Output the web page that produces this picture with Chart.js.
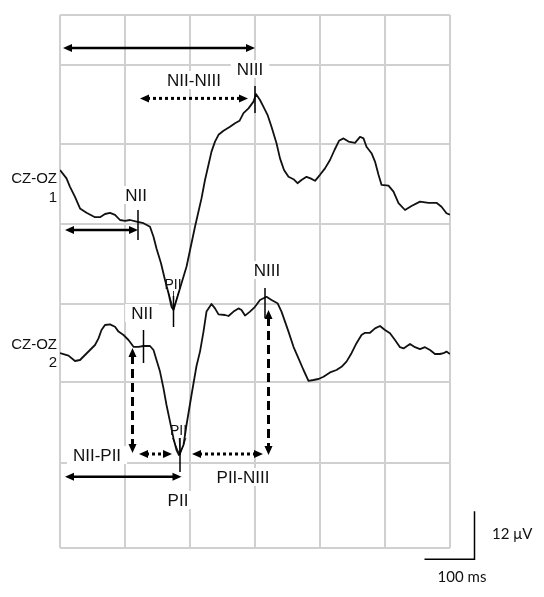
<!DOCTYPE html>
<html>
<head>
<meta charset="utf-8">
<script src="https://cdn.jsdelivr.net/npm/chart.js@4.4.1/dist/chart.umd.min.js"></script>
<style>
  html, body { margin: 0; padding: 0; background: #fff; }
</style>
</head>
<body>
<canvas id="chart" width="544" height="597"></canvas>
<script>
// grid positions (ms / µV)
const xGridMs = [0, 130, 260, 390, 520, 650, 780];
const yGridUv = [0, 21.25, 41.4, 60.9, 81, 101, 120.75, 133.25];

// traces, [ms, µV]
const traceCzOz1 = [
    [0,94.5],[13,92.4],[20,90.3],[30,87.8],[40,84.9],[53,83.8],[70,82.7],[80,82.7],[90,83.5],[100,83.8],
    [110,83.3],[120,82],[130,81.8],[140,82],[153,81.6],[167,81.2],[180,80.3],[187,77.8],[193,74.9],[202,71.2],
    [210,67],[217,63.7],[223,60.3],[227,59.5],[233,62],[243,66.2],[253,70.3],[263,76.2],[270,80.3],[283,87.4],
    [290,92],[297,95.8],[303,99.1],[310,101.6],[317,103.3],[327,104.3],[340,105.3],[350,106.2],[359,106.8],[367,108.7],
    [377,109.9],[387,111.6],[392,113.5],[400,112],[407,110.3],[415,108.3],[423,105.3],[433,101.2],[440,97.4],[448,94.5],
    [457,92.8],[467,92.2],[475,91.2],[483,92],[493,92.8],[501,92.4],[510,91.8],[520,93.3],[530,94.9],[540,97],
    [549,99.5],[558,101.8],[567,102.4],[577,101.6],[590,101.3],[600,102.8],[607,102.4],[613,100.3],[623,98.7],[630,96.6],
    [637,93.3],[643,90.8],[657,90.6],[667,89.1],[677,86.2],[690,84.5],[703,85.5],[720,86.6],[737,86.3],[753,86.3],
    [763,85.3],[773,83.7],[780,83.3],
];
const traceCzOz2 = [
    [0,48.75],[17,48.1],[30,46.75],[40,47],[50,48.25],[60,49.5],[70,50.75],[77,52.4],[83,54.5],[90,55.75],
    [100,55.9],[110,55.3],[117,54.1],[127,53.25],[137,52],[147,50.3],[157,50.3],[167,50.5],[180,50.5],[187,49.5],
    [193,47],[200,44.1],[207,39.9],[213,35.75],[220,31.6],[227,27.4],[233,24.5],[238,23.25],[247,25.75],[253,30.75],
    [263,38.25],[273,45.5],[280,49.1],[287,54.1],[293,59.1],[303,61],[310,59.9],[317,58.4],[330,58.25],[337,58],
    [347,59.1],[357,59.9],[363,59.5],[370,58.1],[380,59.1],[390,60.3],[400,62],[413,62.8],[423,62],[435,61.2],
    [443,59.1],[450,56.6],[457,54.1],[467,50.3],[477,47.4],[487,44.5],[497,41.8],[507,42],[517,42.25],[527,42.8],
    [540,43.9],[553,44.5],[563,45.3],[573,46.6],[583,48.7],[593,51.2],[603,53.25],[610,53.8],[620,53.8],[630,54.9],
    [640,55.5],[650,54.5],[660,53.7],[670,52],[680,50.2],[687,49.9],[700,51],[710,50.2],[720,49.7],[730,50.2],
    [740,49.5],[750,48.5],[760,48.5],[767,48.7],[773,49.1],[780,48.5],
];

// latency arrows, [ms1, µV1, ms2, µV2]
const solidArrows  = [[6,125,390,125], [10,79.5,156,79.5], [10,17.8,243,17.8]];
const dottedArrows = [[160,112.4,376,112.4], [158,23.5,224,23.5], [264,23.5,406,23.5]];
const dashedArrows = [[145,50,145,23.75], [417,59.5,417,23.25]];

// peak marks, [ms, top µV, bottom µV]
const peakTicks = [[390,115.5,108.75], [156,84.5,77], [227,63,55.25], [167,54.5,46.25], [240,27.5,19], [410,65,57.5]];
// PII fans, [left ms, right ms, top µV, apex ms, apex µV]
const piiFans = [[216,238,64.25,227,59.75], [225,252,27.5,240,23.25]];

// texts, [text, ms, µV]
const peakLabels = [
    ['NIII', 380, 119.75], ['NII-NIII', 268, 117], ['NII', 152, 88.25], ['NII', 164, 58.75],
    ['NIII', 414, 69.5], ['NII-PII', 74, 23.25], ['PII-NIII', 366, 17.75], ['PII', 236, 12],
];
const smallLabels = [['PII', 226, 66], ['PII', 237, 29.5]];
const channelLabels = [['CZ-OZ', -6, 92.5], ['1', -6, 87.75], ['CZ-OZ', -6, 51], ['2', -6, 46.5]];
const scaleBarMs = 100, scaleBarUv = 12;
const scaleBarCorner = [829, -2.8];
const scaleLabels = [['12 μV', 864, 3.5, 'left'], ['100 ms', 804, -7.25, 'center']];

function px(chart, ms, uv) {
    return { x: chart.scales.x.getPixelForValue(ms), y: chart.scales.y.getPixelForValue(uv) };
}

function arrowHead(ctx, x, y, ang) {
    const len = 9, half = 4;
    const c = Math.cos(ang), s = Math.sin(ang);
    ctx.beginPath();
    ctx.moveTo(x, y);
    ctx.lineTo(x - len * c + half * s, y - len * s - half * c);
    ctx.lineTo(x - len * c - half * s, y - len * s + half * c);
    ctx.closePath();
    ctx.fill();
}

function doubleArrow(ctx, a, b, dash, width) {
    const ang = Math.atan2(b.y - a.y, b.x - a.x);
    const c = Math.cos(ang), s = Math.sin(ang);
    ctx.save();
    ctx.lineWidth = width;
    ctx.setLineDash(dash);
    ctx.beginPath();
    ctx.moveTo(a.x + 7 * c, a.y + 7 * s);
    ctx.lineTo(b.x - 7 * c, b.y - 7 * s);
    ctx.stroke();
    ctx.setLineDash([]);
    arrowHead(ctx, b.x, b.y, ang);
    arrowHead(ctx, a.x, a.y, ang + Math.PI);
    ctx.restore();
}

function drawText(ctx, p, text, size, align) {
    ctx.textAlign = align || 'center';
    ctx.fillText(text, p.x, p.y + size * 0.36);
}

const labelFont = 17;
const annotations = {
    id: 'annotations',
    beforeDatasetsDraw(chart) {
        const ctx = chart.ctx;
        ctx.save();
        ctx.font = labelFont + 'px "Liberation Sans", Arial, sans-serif';
        ctx.fillStyle = '#fff';
        peakLabels.forEach(([t, ms, uv]) => {
            const p = px(chart, ms, uv);
            const w = ctx.measureText(t).width;
            ctx.fillRect(p.x - w / 2 - 6, p.y - 9, w + 12, 18);
        });
        ctx.restore();
    },
    afterDatasetsDraw(chart) {
        const ctx = chart.ctx;
        ctx.save();
        ctx.strokeStyle = '#000';
        ctx.fillStyle = '#000';

        ctx.lineWidth = 1.5;
        peakTicks.forEach(([ms, top, bottom]) => {
            const a = px(chart, ms, top), b = px(chart, ms, bottom);
            ctx.beginPath(); ctx.moveTo(a.x, a.y); ctx.lineTo(b.x, b.y); ctx.stroke();
        });
        ctx.lineWidth = 0.8;
        piiFans.forEach(([l, r, top, ax, ay]) => {
            const apex = px(chart, ax, ay);
            [l, (l + r) / 2, r].forEach(ms => {
                const p = px(chart, ms, top);
                ctx.beginPath(); ctx.moveTo(p.x, p.y); ctx.lineTo(apex.x, apex.y); ctx.stroke();
            });
        });

        solidArrows.forEach(a => doubleArrow(ctx, px(chart, a[0], a[1]), px(chart, a[2], a[3]), [], 2.5));
        dottedArrows.forEach(a => doubleArrow(ctx, px(chart, a[0], a[1]), px(chart, a[2], a[3]), [3, 3], 3));
        dashedArrows.forEach(a => doubleArrow(ctx, px(chart, a[0], a[1]), px(chart, a[2], a[3]), [9, 5], 3));

        ctx.fillStyle = '#111';
        ctx.font = labelFont + 'px "Liberation Sans", Arial, sans-serif';
        peakLabels.forEach(([t, ms, uv]) => drawText(ctx, px(chart, ms, uv), t, labelFont));
        ctx.font = '14px "Liberation Sans", Arial, sans-serif';
        smallLabels.forEach(([t, ms, uv]) => drawText(ctx, px(chart, ms, uv), t, 14));
        ctx.font = '15px "Liberation Sans", Arial, sans-serif';
        channelLabels.forEach(([t, ms, uv]) => drawText(ctx, px(chart, ms, uv), t, 15, 'right'));

        // scale bar
        const c = px(chart, scaleBarCorner[0], scaleBarCorner[1]);
        const up = px(chart, scaleBarCorner[0], scaleBarCorner[1] + scaleBarUv);
        const left = px(chart, scaleBarCorner[0] - scaleBarMs, scaleBarCorner[1]);
        ctx.lineWidth = 1.5;
        ctx.beginPath();
        ctx.moveTo(up.x, up.y); ctx.lineTo(c.x, c.y); ctx.lineTo(left.x, left.y);
        ctx.stroke();
        ctx.font = '15px Lato, "Open Sans", sans-serif';
        scaleLabels.forEach(([t, ms, uv, al]) => drawText(ctx, px(chart, ms, uv), t, 15, al));
        ctx.restore();
    },
};

const gridStyle = { color: '#d0d0d0', lineWidth: 2, drawTicks: false };

new Chart(document.getElementById('chart'), {
    type: 'scatter',
    data: {
        datasets: [traceCzOz1, traceCzOz2].map(tr => ({
            data: tr.map(([x, y]) => ({ x, y })),
            showLine: true,
            borderColor: '#111',
            borderWidth: 1.8,
            pointRadius: 0,
            tension: 0,
            borderJoinStyle: 'round',
        })),
    },
    options: {
        responsive: false,
        animation: false,
        layout: { padding: { left: 60, top: 15, right: 94, bottom: 49 } },
        plugins: { legend: { display: false }, tooltip: { enabled: false } },
        scales: {
            x: {
                type: 'linear', min: 0, max: 780,
                afterBuildTicks: s => { s.ticks = xGridMs.map(v => ({ value: v })); },
                ticks: { display: false },
                grid: gridStyle,
                border: { display: false },
            },
            y: {
                type: 'linear', min: 0, max: 133.25,
                afterBuildTicks: s => { s.ticks = yGridUv.map(v => ({ value: v })); },
                ticks: { display: false },
                grid: gridStyle,
                border: { display: false },
            },
        },
    },
    plugins: [annotations],
});
</script>
</body>
</html>
